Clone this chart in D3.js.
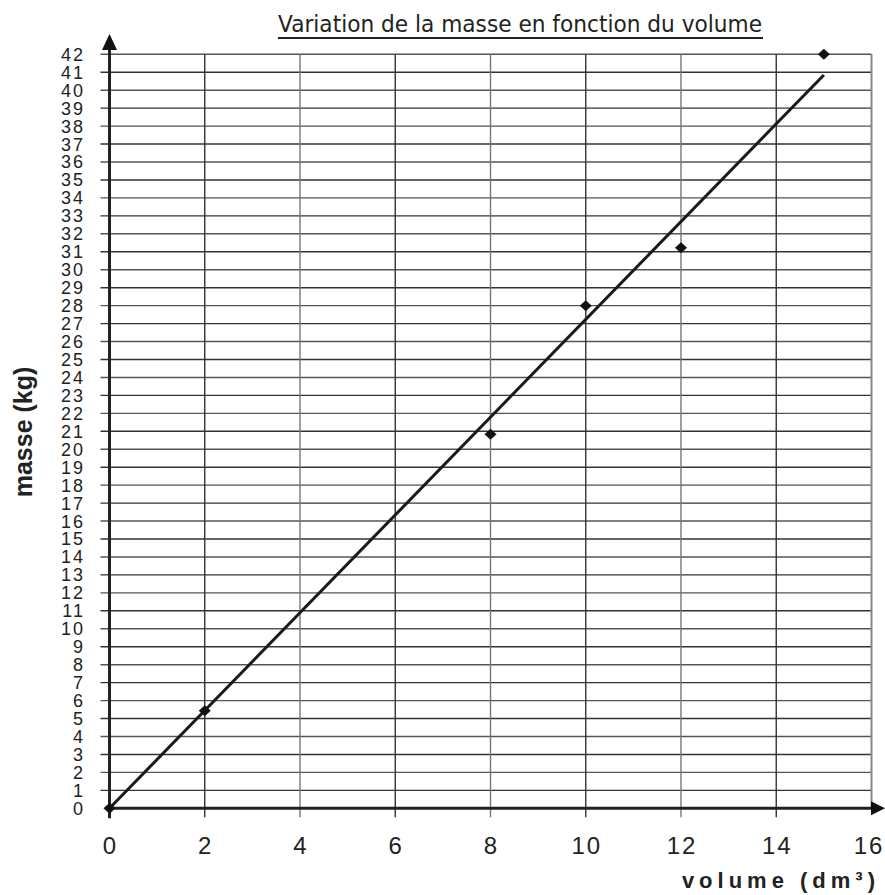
<!DOCTYPE html>
<html><head><meta charset="utf-8">
<script src="https://cdn.jsdelivr.net/npm/d3@7"></script>
<style>body{margin:0;background:#fff}svg{display:block}</style>
</head><body>
<script>
const title = "Variation de la masse en fonction du volume";
const xLabel = "volume (dm³)";
const yLabel = "masse (kg)";
const volumes = [0, 2, 8, 10, 12, 15];
const masses = [0, 5.44, 20.83, 28.0, 31.23, 42.0];
const trendX = [0, 15];
const trendY = [0, 40.85];
const xTicks = [0, 2, 4, 6, 8, 10, 12, 14, 16];
const yTicks = d3.range(0, 43);

const W = 885, H = 895;
const FONT = "'Liberation Sans', Arial, sans-serif";
const svg = d3.select("body").append("svg").attr("width", W).attr("height", H);
const x = d3.scaleLinear().domain([0, 16]).range([109.5, 871.5]);
const y = d3.scaleLinear().domain([0, 42]).range([808.3, 54.3]);

// grid horizontal
const g = svg.append("g");
g.selectAll("line.h").data(yTicks.slice(1)).join("line")
  .attr("x1", x(0) - 9).attr("x2", x(16))
  .attr("y1", d => y(d)).attr("y2", d => y(d))
  .attr("stroke", (d, i) => i % 2 ? "#555" : "#333").attr("stroke-width", 1.4);
// grid vertical
g.selectAll("line.v").data(xTicks.slice(1, -1)).join("line")
  .attr("x1", d => x(d)).attr("x2", d => x(d))
  .attr("y1", y(42)).attr("y2", y(0) + 9)
  .attr("stroke", (d, i) => i % 2 ? "#777" : "#333").attr("stroke-width", 1.4);
// right border
g.append("line").attr("x1", x(16)).attr("x2", x(16)).attr("y1", y(42)).attr("y2", y(0))
  .attr("stroke", "#888").attr("stroke-width", 2);

// y tick labels
svg.append("g").selectAll("text").data(yTicks).join("text")
  .attr("x", 85).attr("y", d => y(d)).attr("dy", "0.36em")
  .attr("text-anchor", "end").attr("font-family", FONT)
  .attr("font-size", 18).attr("letter-spacing", 2).attr("fill", "#222")
  .text(d => d);
// x tick labels
svg.append("g").selectAll("text").data(xTicks).join("text")
  .attr("x", d => Math.min(x(d) + 1, 869)).attr("y", 854)
  .attr("text-anchor", "middle").attr("font-family", FONT)
  .attr("font-size", 24).attr("letter-spacing", 2).attr("fill", "#222")
  .text(d => d);

// axes
svg.append("line").attr("x1", x(0)).attr("x2", x(0)).attr("y1", y(0) + 10).attr("y2", 48)
  .attr("stroke", "#222").attr("stroke-width", 3);
svg.append("path").attr("d", `M${x(0)},34 L${x(0) - 7.5},50 L${x(0) + 7.5},50 Z`).attr("fill", "#111");
svg.append("line").attr("x1", x(0)).attr("x2", 873).attr("y1", y(0)).attr("y2", y(0))
  .attr("stroke", "#222").attr("stroke-width", 3);
svg.append("path").attr("d", `M885,${y(0)} L871,${y(0) - 7} L871,${y(0) + 7} Z`).attr("fill", "#111");

// trend line
const line = d3.line().x(d => x(d[0])).y(d => y(d[1]));
svg.append("path").datum(trendX.map((v, i) => [v, trendY[i]])).attr("d", line)
  .attr("fill", "none").attr("stroke", "#1a1a1a").attr("stroke-width", 3);

// markers
svg.append("g").selectAll("path").data(volumes.map((v, i) => [v, masses[i]])).join("path")
  .attr("d", d => { const cx = x(d[0]), cy = y(d[1]); return `M${cx},${cy - 5.5} L${cx + 6},${cy} L${cx},${cy + 5.5} L${cx - 6},${cy} Z`; })
  .attr("fill", "#111");

// title
svg.append("text").attr("x", 520).attr("y", 32).attr("text-anchor", "middle")
  .attr("font-family", "'DejaVu Sans', sans-serif").attr("font-size", 23).attr("fill", "#222")
  .attr("textLength", 484).attr("lengthAdjust", "spacingAndGlyphs")
  .text(title);
svg.append("line").attr("x1", 278).attr("x2", 763).attr("y1", 38).attr("y2", 38)
  .attr("stroke", "#222").attr("stroke-width", 2);

// axis labels
svg.append("text").attr("x", 880).attr("y", 888).attr("text-anchor", "end")
  .attr("font-family", FONT).attr("font-weight", "bold")
  .attr("font-size", 22).attr("letter-spacing", 5).attr("fill", "#222").text(xLabel);
svg.append("text").attr("transform", "translate(32,432) rotate(-90)").attr("text-anchor", "middle")
  .attr("font-family", FONT).attr("font-weight", "bold")
  .attr("font-size", 25).attr("fill", "#222").text(yLabel);
</script>
</body></html>
